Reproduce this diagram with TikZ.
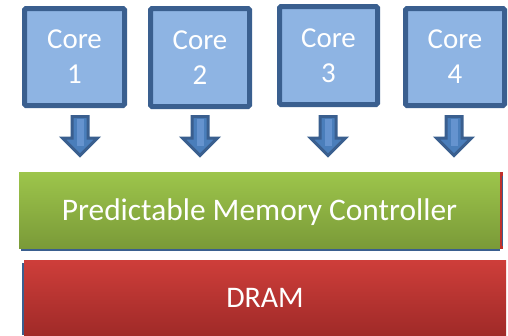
\documentclass[tikz,border=0pt]{standalone}
\usepackage{fontspec}
\setmainfont{Carlito}
\definecolor{corefill}{HTML}{8EB4E3}
\definecolor{coreline}{HTML}{3A5F8F}
\definecolor{arrfill}{HTML}{4A7EBB}
\definecolor{arrin}{HTML}{6593CF}
\definecolor{gtop}{HTML}{9DC54B}
\definecolor{gbot}{HTML}{7A9A38}
\definecolor{rtop}{HTML}{CE3E3A}
\definecolor{rbot}{HTML}{A02A28}
\definecolor{redge}{HTML}{C0302C}
\begin{document}
\begin{tikzpicture}[x=1bp,y=-1bp,
  core/.style={draw=coreline, line width=5bp, fill=corefill, rounded corners=1.5bp},
  corelabel/.style={text=white, font=\fontsize{29}{35}\selectfont, align=center, inner sep=0},
  downarrow/.style={draw=coreline, line width=3bp, fill=arrfill, line join=miter},
  bartext/.style={text=white, font=\fontsize{31.5}{36}\selectfont, inner sep=0}]
\useasboundingbox (0,0) rectangle (508,335);
% cores
\foreach \i/\xa/\xb/\ya/\yb/\ac in {1/24.5/124.5/8.5/105.5/80, 2/150.5/249.5/8.5/106.5/200, 3/279.5/377.5/6.5/104.5/328, 4/405.5/504.5/8.5/105.5/454}{
  \draw[core] (\xa,\ya) rectangle (\xb,\yb);
  \node[corelabel] (c\i) at ({(\xa+\xb)/2},{(\ya+\yb)/2}) {Core\\\i};
  \draw[downarrow] (\ac-8,116.5) -- (\ac+8,116.5) -- (\ac+8,138) -- (\ac+17.5,138) -- (\ac,155.5) -- (\ac-17.5,138) -- (\ac-8,138) -- cycle;
  \fill[arrin] (\ac-3.5,119) rectangle (\ac+3.5,146);
}
% controller
\draw[coreline, line width=1.2bp] (21,250) -- (500,250);
\shade[top color=gtop, bottom color=gbot] (19,172) rectangle (500,248.5);
\fill[redge] (499.5,172) rectangle (502.5,248.5);
\draw[coreline, line width=0.8bp] (502.8,176) -- (502.8,246);
\node[bartext] (mc) at (259.5,212) {Predictable Memory Controller};
% DRAM
\draw[coreline, line width=1.2bp] (23,263) -- (23,335);
\shade[top color=rtop, bottom color=rbot] (24,260) rectangle (506,335);
\node[bartext, font=\fontsize{30}{36}\selectfont] (dram) at (265,298) {DRAM};
\end{tikzpicture}
\end{document}
